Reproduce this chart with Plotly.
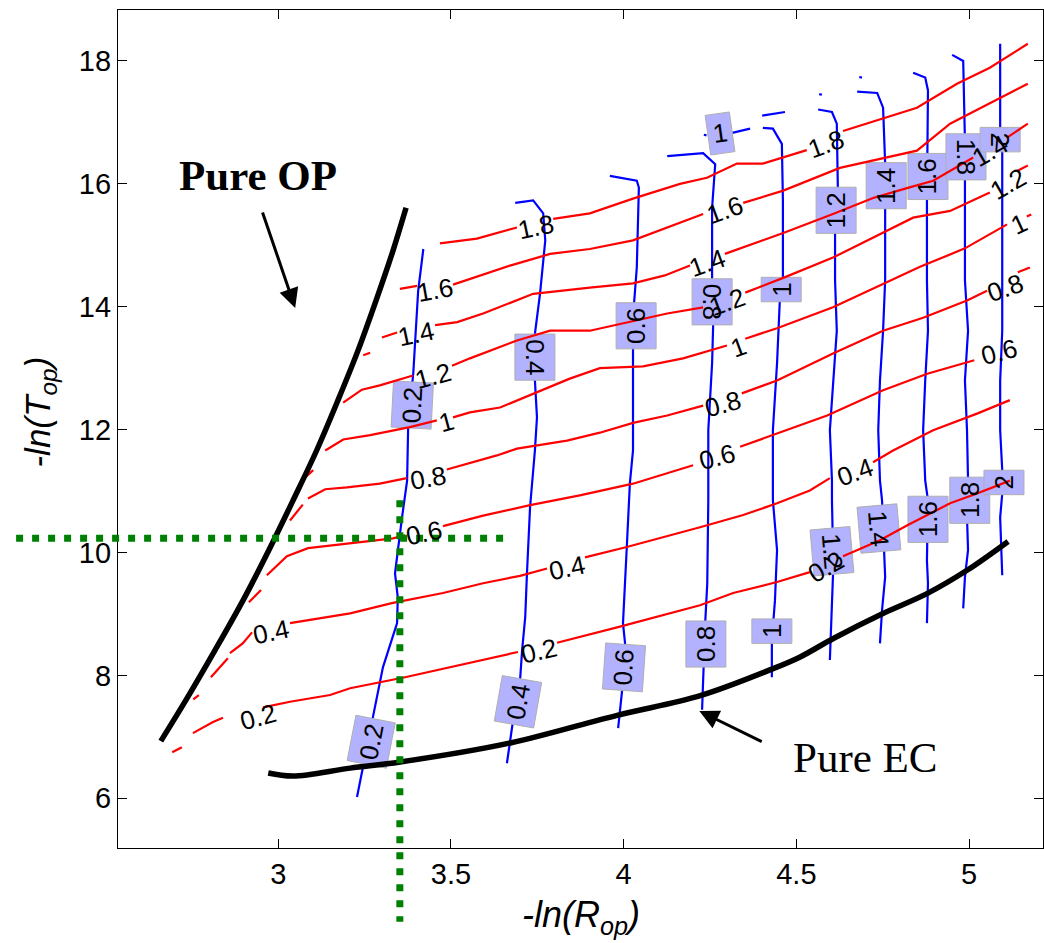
import numpy as np
import plotly.graph_objects as go

# ---------------- axes ----------------
X_RANGE = [2.536, 5.214]
Y_RANGE = [5.19, 18.83]
X_TICKS = [3, 3.5, 4, 4.5, 5]
X_TICK_TEXT = ["3", "3.5", "4", "4.5", "5"]
Y_TICKS = [6, 8, 10, 12, 14, 16, 18]
Y_TICK_TEXT = ["6", "8", "10", "12", "14", "16", "18"]

# ---------------- red contour lines (None = break for dashes / inline labels) ----------------
red_02 = [(2.693, 6.75), (2.721, 6.83), None,
          (2.753, 7.06), (2.794, 7.19), (2.811, 7.24), (2.840, 7.31), None,
          (2.956, 7.48), (3.034, 7.57), (3.150, 7.68), (3.208, 7.79), (3.367, 7.97), (3.584, 8.25), (3.694, 8.38), None,
          (3.807, 8.53), (3.981, 8.78), (4.221, 9.14), (4.317, 9.34), (4.444, 9.52), (4.539, 9.68), None,
          (4.635, 9.94), (4.742, 10.20), (4.820, 10.44), (4.945, 10.80), (5.023, 10.96), (5.118, 11.17)]
red_04 = [(2.754, 7.61), (2.770, 7.68), None,
          (2.805, 7.97), (2.854, 8.28), None,
          (2.860, 8.36), (2.897, 8.52), (2.924, 8.70), None,
          (3.034, 8.85), (3.208, 9.01), (3.332, 9.18), (3.477, 9.34), (3.593, 9.50), (3.700, 9.62), (3.778, 9.74), None,
          (3.888, 9.92), (4.009, 10.09), (4.221, 10.41), (4.346, 10.61), (4.444, 10.80), (4.539, 11.01), (4.597, 11.21), None,
          (4.722, 11.47), (4.780, 11.66), (4.896, 11.99), (5.023, 12.26), (5.118, 12.48)]
red_06 = [(2.915, 9.19), (2.950, 9.39), None,
          (2.967, 9.63), (3.005, 9.84), (3.025, 9.94), (3.086, 10.07), (3.208, 10.15), (3.332, 10.23), (3.367, 10.28), None,
          (3.477, 10.43), (3.593, 10.60), (3.729, 10.77), (3.873, 10.93), (4.027, 11.12), (4.201, 11.42), None,
          (4.337, 11.72), (4.444, 11.94), (4.589, 12.23), (4.751, 12.64), (4.879, 12.91), (5.015, 13.13)]
red_08 = [(3.034, 10.52), (3.071, 10.78), None,
          (3.086, 10.88), (3.136, 11.03), (3.199, 11.06), (3.294, 11.12), (3.372, 11.21), None,
          (3.488, 11.35), (3.555, 11.46), (3.633, 11.58), (3.691, 11.69), (3.836, 11.82), (3.931, 11.95), (4.027, 12.11),
          (4.126, 12.23), (4.230, 12.39), None,
          (4.342, 12.59), (4.444, 12.80), (4.606, 13.24), (4.751, 13.61), (4.867, 13.82), (4.994, 14.10), (5.052, 14.26), None,
          (5.141, 14.56), (5.176, 14.64)]
red_10 = [(3.078, 11.22), (3.101, 11.34), None,
          (3.136, 11.66), (3.188, 11.84), (3.266, 11.91), (3.381, 12.04), (3.459, 12.15), None,
          (3.506, 12.20), (3.555, 12.28), (3.642, 12.36), (3.749, 12.61), (3.844, 12.83), (3.931, 13.00), (4.056, 13.03),
          (4.172, 13.16), (4.299, 13.37), None,
          (4.352, 13.48), (4.444, 13.65), (4.606, 13.99), (4.748, 14.36), (4.858, 14.65), (4.988, 14.95), (5.110, 15.34), None,
          (5.167, 15.47), (5.180, 15.50)]
red_12 = [(3.188, 12.44), (3.242, 12.65), (3.294, 12.72), (3.390, 12.88), None,
          (3.503, 13.04), (3.555, 13.16), (3.691, 13.45), (3.787, 13.61), (3.902, 13.61), (4.027, 13.77), (4.126, 13.89),
          (4.230, 13.99), None,
          (4.352, 14.23), (4.462, 14.47), (4.606, 14.80), (4.722, 15.12), (4.838, 15.45), (4.945, 15.56), (5.060, 15.86), None,
          (5.139, 16.21), (5.170, 16.30)]
red_14 = [(3.246, 13.21), (3.266, 13.25), None,
          (3.300, 13.50), (3.344, 13.58), None,
          (3.454, 13.70), (3.518, 13.75), (3.593, 13.89), (3.738, 14.21), (3.902, 14.31), (4.027, 14.38), (4.119, 14.51),
          (4.192, 14.67), None,
          (4.293, 14.86), (4.462, 15.20), (4.606, 15.51), (4.722, 15.77), (4.820, 15.93), (4.896, 16.05), (5.012, 16.43), None,
          (5.109, 16.75), (5.170, 16.98)]
red_16 = [(3.352, 14.29), (3.402, 14.34), None,
          (3.506, 14.36), (3.671, 14.67), (3.787, 14.86), (3.902, 14.94), (4.027, 15.08), (4.134, 15.30), (4.230, 15.51), None,
          (4.346, 15.69), (4.462, 15.89), (4.626, 16.26), (4.742, 16.41), (4.849, 16.54), (4.945, 16.98), (5.060, 17.31),
          (5.170, 17.63)]
red_18 = [(3.468, 15.03), (3.575, 15.11), (3.691, 15.29), None,
          (3.796, 15.43), (3.902, 15.52), (4.027, 15.76), (4.163, 16.00), (4.241, 16.10), (4.328, 16.33), (4.403, 16.33),
          (4.530, 16.55), None,
          (4.635, 16.86), (4.751, 17.06), (4.849, 17.24), (4.965, 17.63), (5.060, 17.89), (5.170, 18.28)]
RED_LINES = [red_02, red_04, red_06, red_08, red_10, red_12, red_14, red_16, red_18]

red_label_text = ["0.2", "0.2", "0.2", "0.4", "0.4", "0.4", "0.6", "0.6", "0.6",
                  "0.8", "0.8", "0.8", "1", "1", "1", "1.2", "1.2", "1.2",
                  "1.4", "1.4", "1.4", "1.6", "1.6", "1.8", "1.8"]
red_label_x = [2.942, 3.755, 4.586, 2.980, 3.836, 4.670, 3.422, 4.270, 5.087,
               3.434, 4.288, 5.104, 3.486, 4.332, 5.145, 3.448, 4.299, 5.113,
               3.399, 4.241, 5.060, 3.454, 4.293, 3.746, 4.586]
red_label_y = [7.33, 8.39, 9.76, 8.71, 9.75, 11.31, 10.31, 11.56, 13.27,
               11.22, 12.41, 14.31, 12.13, 13.35, 15.34, 12.88, 14.08, 16.00,
               13.55, 14.72, 16.54, 14.28, 15.57, 15.29, 16.65]
red_label_angle = [-15, -13, -30, -12, -12, -20, -12, -15, -15,
                   -10, -15, -20, -15, -20, -25, -15, -20, -30,
                   -12, -20, -30, -10, -20, -12, -20]

# ---------------- blue contour lines ----------------
blue_02 = [(3.420, 14.94), (3.405, 14.26), (3.391, 12.93), (3.376, 12.04), (3.373, 11.17), (3.358, 10.56), (3.338, 9.66),
           (3.346, 9.27), (3.344, 8.85), (3.303, 8.13), (3.274, 7.32), (3.245, 6.51), (3.228, 6.02)]
blue_04 = [(3.686, 15.69), (3.738, 15.73), (3.767, 15.52), (3.773, 15.08), (3.758, 14.22), (3.743, 13.56), (3.743, 12.80),
           (3.749, 12.20), (3.743, 11.66), (3.729, 10.74), (3.720, 9.66), (3.715, 8.95), (3.706, 8.41), (3.700, 7.92),
           (3.677, 7.16), (3.662, 6.57)]
blue_06 = [(3.960, 16.13), (4.038, 16.05), (4.044, 15.94), (4.038, 14.64), (4.030, 14.05), (4.027, 13.34), (4.027, 11.66),
           (4.018, 11.13), (4.010, 10.20), (4.004, 9.50), (3.998, 8.85), (4.004, 8.52), (3.995, 7.73), (3.984, 7.14)]
blue_08 = [(4.126, 16.45), (4.230, 16.50), (4.265, 16.32), (4.256, 15.61), (4.256, 14.42), (4.259, 13.69), (4.256, 13.08),
           (4.245, 11.99), (4.245, 10.85), (4.242, 9.50), (4.236, 8.85), (4.230, 8.09), (4.227, 7.44)]
blue_10 = [(4.232, 16.80), (4.240, 16.79), None,
           (4.314, 16.83), (4.366, 16.90), None,
           (4.401, 17.11), (4.467, 17.17), None,
           (4.403, 16.91), (4.432, 16.90), (4.458, 16.65), (4.461, 15.73), (4.461, 14.43), (4.452, 14.10), (4.444, 13.08),
           (4.432, 11.99), (4.432, 11.17), (4.432, 10.85), (4.444, 10.04), (4.438, 9.22), (4.429, 8.57), (4.429, 7.97)]
blue_12 = [(4.566, 17.46), (4.574, 17.45), None,
           (4.563, 17.21), (4.603, 17.17), (4.617, 16.98), (4.620, 15.94), (4.612, 15.19), (4.612, 14.43), (4.617, 13.61),
           (4.606, 12.80), (4.597, 11.99), (4.603, 11.17), (4.603, 10.85), (4.606, 10.04), (4.606, 9.63), (4.597, 8.25)]
blue_14 = [(4.682, 17.74), (4.690, 17.73), None,
           (4.676, 17.50), (4.734, 17.48), (4.751, 17.24), (4.757, 16.33), (4.757, 15.61), (4.757, 14.43), (4.751, 13.61),
           (4.742, 12.80), (4.737, 11.99), (4.742, 11.17), (4.748, 10.85), (4.757, 9.60), (4.748, 9.06), (4.742, 8.52)]
blue_16 = [(4.838, 17.81), (4.873, 17.73), (4.881, 17.52), (4.878, 16.46), (4.878, 15.76), (4.878, 14.43), (4.881, 13.61),
           (4.873, 12.80), (4.867, 11.99), (4.873, 11.17), (4.881, 10.85), (4.878, 9.87), (4.881, 9.50), (4.878, 8.85)]
blue_18 = [(4.951, 18.10), (4.983, 18.00), (4.988, 16.70), (4.988, 16.08), (4.988, 14.43), (4.997, 13.61), (4.988, 12.80),
           (4.994, 11.99), (4.997, 11.17), (4.994, 10.57), (4.997, 10.04), (4.988, 9.60), (4.983, 9.09)]
blue_20 = [(5.090, 18.28), (5.090, 16.87), (5.096, 16.54), (5.096, 14.43), (5.096, 13.61), (5.090, 12.80), (5.090, 11.99),
           (5.096, 11.34), (5.096, 10.96), (5.090, 10.57), (5.096, 9.63)]
BLUE_LINES = [blue_02, blue_04, blue_06, blue_08, blue_10, blue_12, blue_14, blue_16, blue_18, blue_20]

blue_label_text = ["0.2", "0.4", "0.6", "0.8", "1", "1", "1.2", "1.4", "1.6", "1.8", "2",
                   "0.2", "0.4", "0.6", "0.8", "1", "1.2", "1.4", "1.6", "1.8", "2"]
blue_label_x = [3.388, 3.743, 4.036, 4.256, 4.279, 4.456, 4.615, 4.760, 4.881, 4.991, 5.090,
                3.269, 3.694, 4.001, 4.238, 4.429, 4.603, 4.739, 4.881, 5.002, 5.101]
blue_label_y = [12.40, 13.18, 13.69, 14.08, 16.82, 14.28, 15.57, 15.97, 16.12, 16.44, 16.72,
                6.92, 7.57, 8.13, 8.51, 8.72, 10.02, 10.39, 10.54, 10.85, 11.14]
blue_label_angle = [-87, 90, -90, 90, -8, -90, -90, -90, -90, 90, 90,
                    -79, -80, -86, -90, -90, 85, 85, -90, -90, -90]

# ---------------- boundaries ----------------
op_boundary = [(2.660, 6.93), (2.733, 7.60), (2.817, 8.41), (2.898, 9.22), (2.973, 10.04), (3.043, 10.85),
               (3.111, 11.66), (3.173, 12.48), (3.231, 13.29), (3.283, 14.10), (3.332, 14.91), (3.370, 15.61)]
ec_boundary = [(2.971, 6.41), (3.043, 6.36), (3.208, 6.49), (3.353, 6.59), (3.672, 6.90), (3.981, 7.35), (4.222, 7.67),
               (4.433, 8.11), (4.511, 8.30), (4.607, 8.60), (4.752, 9.01), (4.878, 9.33), (4.994, 9.71), (5.113, 10.18)]

# operating point guide lines
op_point_x = 3.352
op_point_y = 10.233
guide_h_x = [2.241, 3.651]
guide_v_y = [10.85, 3.99]

# ---------------- layout constants ----------------
W, H = 1044, 943
ML, MR, MT, MB = 118, 1, 10, 95
SX = (W - ML - MR) / (X_RANGE[1] - X_RANGE[0])
SY = (H - MT - MB) / (Y_RANGE[1] - Y_RANGE[0])
SANS = "Liberation Sans, Arial, sans-serif"
SERIF = "Liberation Serif, Times New Roman, serif"
LABEL_FS = 26


def split(pts):
    return [p[0] if p else None for p in pts], [p[1] if p else None for p in pts]


def box_poly(cx, cy, text, ang):
    L = 10 + LABEL_FS * sum(0.278 if c == "." else 0.556 for c in text)
    T = 40
    th = np.radians(ang)
    xs, ys = [], []
    for u, v in [(-L / 2, -T / 2), (L / 2, -T / 2), (L / 2, T / 2), (-L / 2, T / 2), (-L / 2, -T / 2)]:
        dx = u * np.cos(th) - v * np.sin(th)
        dy = u * np.sin(th) + v * np.cos(th)
        xs.append(cx + dx / SX)
        ys.append(cy - dy / SY)
    return xs, ys


fig = go.Figure()

for ln in BLUE_LINES:
    x, y = split(ln)
    fig.add_trace(go.Scatter(x=x, y=y, mode="lines", line=dict(color="#0000FF", width=2.2),
                             hoverinfo="skip", connectgaps=False))

for t, cx, cy, a in zip(blue_label_text, blue_label_x, blue_label_y, blue_label_angle):
    bx, by = box_poly(cx, cy, t, a)
    fig.add_trace(go.Scatter(x=bx, y=by, mode="lines", fill="toself", fillcolor="rgb(178,178,255)",
                             line=dict(color="rgb(175,175,175)", width=1), hoverinfo="skip"))

for ln in RED_LINES:
    x, y = split(ln)
    fig.add_trace(go.Scatter(x=x, y=y, mode="lines", line=dict(color="#FF0000", width=2.2),
                             hoverinfo="skip", connectgaps=False))

for ln in (op_boundary, ec_boundary):
    x, y = split(ln)
    fig.add_trace(go.Scatter(x=x, y=y, mode="lines", line=dict(color="black", width=5.5, shape="spline"),
                             hoverinfo="skip"))

annotations = []
for t, cx, cy, a in zip(blue_label_text, blue_label_x, blue_label_y, blue_label_angle):
    annotations.append(dict(x=cx, y=cy, xref="x", yref="y", text=t, showarrow=False, textangle=a,
                            font=dict(family=SANS, size=LABEL_FS, color="black")))
for t, cx, cy, a in zip(red_label_text, red_label_x, red_label_y, red_label_angle):
    annotations.append(dict(x=cx, y=cy, xref="x", yref="y", text=t, showarrow=False, textangle=a,
                            font=dict(family=SANS, size=LABEL_FS, color="black")))

annotations += [
    dict(x=2.941, y=16.13, xref="x", yref="y", text="<b>Pure OP</b>", showarrow=False,
         font=dict(family=SERIF, size=43, color="black")),
    dict(x=4.699, y=6.66, xref="x", yref="y", text="Pure EC", showarrow=False,
         font=dict(family=SERIF, size=43, color="black")),
    dict(x=3.049, y=13.98, ax=2.953, ay=15.56, xref="x", yref="y", axref="x", ayref="y", text="",
         showarrow=True, arrowhead=2, arrowsize=1.3, arrowwidth=3, arrowcolor="black"),
    dict(x=4.219, y=7.42, ax=4.404, ay=6.91, xref="x", yref="y", axref="x", ayref="y", text="",
         showarrow=True, arrowhead=2, arrowsize=1.3, arrowwidth=3, arrowcolor="black"),
    dict(x=0.5, y=-0.052, xref="paper", yref="paper", yanchor="top", showarrow=False,
         text="<i>-ln(R<sub>op</sub>)</i>", font=dict(family=SANS, size=36, color="black")),
    dict(x=-0.084, y=0.52, xref="paper", yref="paper", xanchor="center", showarrow=False, textangle=-90,
         text="<i>-ln(T<sub>op</sub>)</i>", font=dict(family=SANS, size=35, color="black")),
]

# dotted guide lines through the operating point (allowed to run outside the axes)
xd = lambda v: (v - X_RANGE[0]) / (X_RANGE[1] - X_RANGE[0])
yd = lambda v: (v - Y_RANGE[0]) / (Y_RANGE[1] - Y_RANGE[0])
GREEN = dict(color="rgb(0,128,0)", width=7, dash="7px,9px")
shapes = [
    dict(type="line", xref="x domain", yref="y", x0=xd(guide_h_x[0]), x1=xd(guide_h_x[1]),
         y0=op_point_y, y1=op_point_y, line=GREEN, layer="above"),
    dict(type="line", xref="x", yref="y domain", x0=op_point_x, x1=op_point_x,
         y0=yd(guide_v_y[0]), y1=yd(guide_v_y[1]), line=GREEN, layer="above"),
]

axis_common = dict(showgrid=False, zeroline=False, showline=True, linecolor="black", linewidth=1.3,
                   mirror="ticks", ticks="inside", ticklen=9, tickwidth=1, tickcolor="black",
                   tickfont=dict(family=SANS, size=29, color="black"))
fig.update_layout(
    width=W, height=H, margin=dict(l=ML, r=MR, t=MT, b=MB),
    paper_bgcolor="white", plot_bgcolor="white", showlegend=False,
    xaxis=dict(range=X_RANGE, tickvals=X_TICKS, ticktext=X_TICK_TEXT, **axis_common),
    yaxis=dict(range=Y_RANGE, tickvals=Y_TICKS, ticktext=Y_TICK_TEXT, **axis_common),
    annotations=annotations, shapes=shapes,
)

fig.write_html("out.html", config={"displayModeBar": False},
               post_script="document.body.style.margin='0';")
